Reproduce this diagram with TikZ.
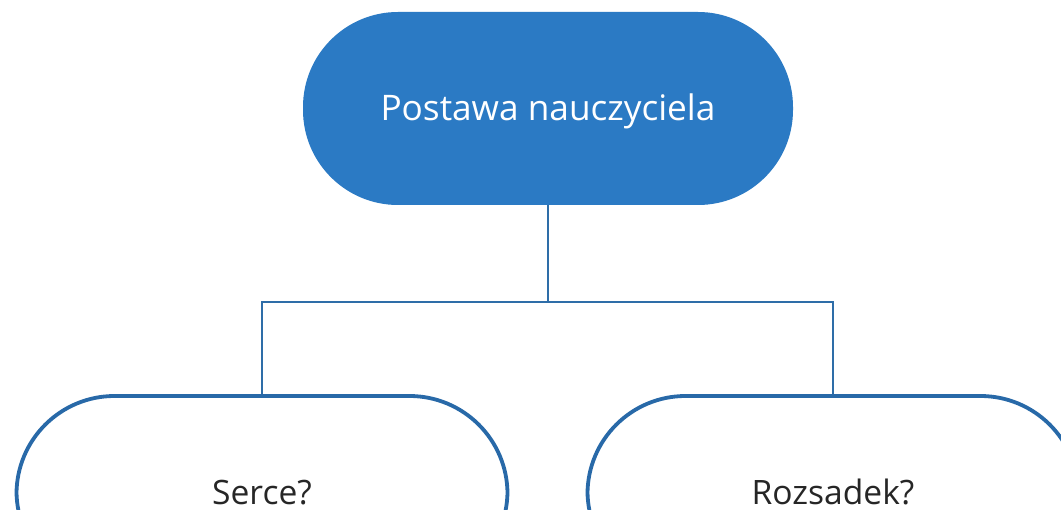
\documentclass[tikz,border=0pt]{standalone}
\usepackage{fontspec}
\setmainfont{Open Sans}
\definecolor{nodefill}{HTML}{2B7AC4}
\definecolor{nodeline}{HTML}{2869A8}
\definecolor{linkcol}{HTML}{2E6DA8}
\definecolor{txtcol}{HTML}{262626}
\begin{document}
\begin{tikzpicture}[x=1pt,y=-1pt,
  topbox/.style={rectangle, rounded corners=95pt, minimum width=490pt, minimum height=193pt,
     fill=nodefill, draw=none, text=white, font=\fontsize{35.2}{40}\selectfont,
     text height=25pt, text depth=0pt, inner sep=0pt},
  subbox/.style={rectangle, rounded corners=98pt, minimum width=491pt, minimum height=193pt,
     draw=nodeline, line width=3.8pt, fill=white, text=txtcol, font=\fontsize{33.6}{40}\selectfont,
     text height=25pt, text depth=0pt, inner sep=0pt},
  link/.style={draw=linkcol, line width=2.8pt}]
\useasboundingbox (0,0) rectangle (1061,510);
\clip (0,0) rectangle (1061,510);
\fill[white] (0,0) rectangle (1061,510);
\node[topbox] (top) at (548,108.5) {Postawa nauczyciela};
\node[subbox] (left) at (262,492.5) {Serce?};
\node[subbox] (right) at (833,492.5) {Rozsadek?};
\coordinate (j) at (548,302);
\draw[link] (top.south) -- (j);
\draw[link] (left.north) |- (j) -| (right.north);
\end{tikzpicture}
\end{document}
